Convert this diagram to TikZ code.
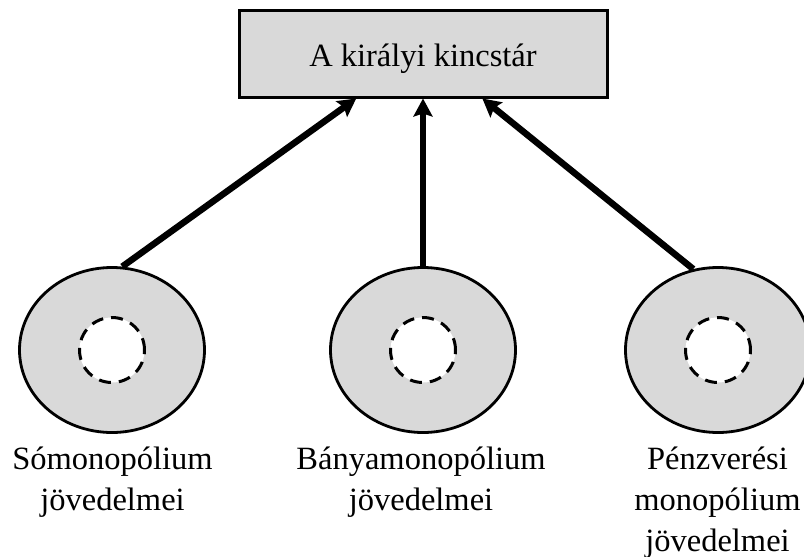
\documentclass[tikz,border=0pt]{standalone}
\usepackage{fontspec}
\setmainfont{Liberation Serif}
\usetikzlibrary{shapes.geometric,arrows.meta,calc}
\definecolor{shade}{HTML}{D9D9D9}
\tikzset{
  topbox/.style={draw=black, line width=3pt, fill=shade, minimum width=368pt, minimum height=87pt, inner sep=0pt, text height=25pt, text depth=0pt, font=\fontsize{32.5}{41}\selectfont},
  disc/.style={ellipse, draw=black, line width=2.8pt, fill=shade, minimum width=185pt, minimum height=165pt, inner sep=0pt},
  hole/.style={circle, draw=black, line width=3pt, dash pattern=on 12pt off 8pt, fill=white, minimum size=65pt, inner sep=0pt},
  lbl/.style={anchor=north, align=center, inner sep=0pt, font=\fontsize{32.5}{41}\selectfont},
  arr/.style={line width=6.5pt, -{Stealth[length=18pt, width=19pt, inset=3pt]}}
}
\begin{document}
\begin{tikzpicture}[x=1pt,y=-1pt]
\useasboundingbox (0,0) rectangle (804,557);
\node[topbox] (box) at (423,53.5) {A királyi kincstár};
\node[disc] (d1) at (112,350) {};
\node[disc] (d2) at (423,350) {};
\node[disc] (d3) at (718,350) {};
\node[hole] (h1) at (112,350) {};
\node[hole] (h2) at (423,350) {};
\node[hole] (h3) at (718,350) {};
\node[lbl] (l1) at (112.5,447) {Sómonopólium\\jövedelmei};
\node[lbl] (l2) at (421,447) {Bányamonopólium\\jövedelmei};
\node[lbl] (l3) at (717.5,447) {Pénzverési\\monopólium\\jövedelmei};
\draw[arr] (d1.83) -- ($(box.south west)!0.32!(box.south east)$);
\draw[arr] (d2.north) -- (box.south);
\draw[arr] (d3.107) -- ($(box.south west)!0.66!(box.south east)$);
\end{tikzpicture}
\end{document}
